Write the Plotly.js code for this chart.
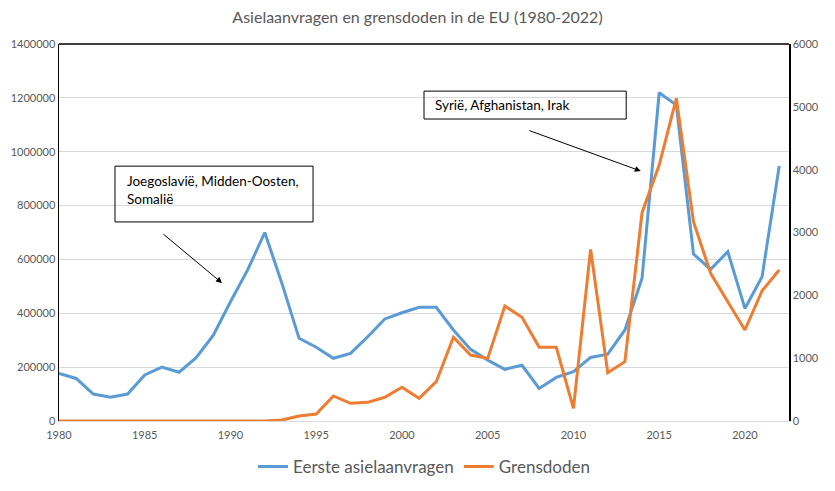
<!DOCTYPE html>
<html><head><meta charset="utf-8">
<script src="https://cdn.plot.ly/plotly-3.0.1.min.js"></script>
<style>html,body{margin:0;padding:0;background:#fff}#chart{width:835px;height:491px}</style>
</head><body><div id="chart"></div>
<script>
const years = [];
for (let y = 1980; y <= 2022; y++) years.push(y);
const asylum = [177000,158000,100000,88000,100000,171000,200000,181000,235000,319000,443000,561000,700000,511000,307000,274000,233000,251000,313000,379000,402000,422000,422000,338000,266000,226000,192000,207000,121000,162000,183000,236000,248000,338000,530000,1219000,1173000,620000,563000,629000,418000,536000,947000];
const deaths = [0,0,0,0,0,0,0,0,0,0,0,0,0,15,80,111,398,281,297,377,536,361,626,1332,1050,997,1830,1650,1173,1173,202,2732,769,944,3315,4074,5136,3172,2350,1899,1448,2074,2403];
const seriesNames = ['Eerste asielaanvragen','Grensdoden'];
const titleText = 'Asielaanvragen en grensdoden in de EU (1980-2022)';
const note1 = 'Joegoslavië, Midden-Oosten,<br>Somalië';
const note2 = 'Syrië, Afghanistan, Irak';

const gray = '#595959';
const font = 'Lato, "Open Sans", sans-serif';
const data = [
  {x: years, y: asylum, name: seriesNames[0], type: 'scatter', mode: 'lines',
   line: {color: '#5b9bd5', width: 3}},
  {x: years, y: deaths, name: seriesNames[1], type: 'scatter', mode: 'lines', yaxis: 'y2',
   line: {color: '#ed7d31', width: 3}}
];
const layout = {
  width: 835, height: 491,
  margin: {l: 59, r: 46, t: 44, b: 70, autoexpand: false},
  paper_bgcolor: '#fff', plot_bgcolor: '#fff',
  font: {family: font, color: gray, size: 11},
  title: {text: titleText, font: {family: font, size: 16, color: gray}, x: 0.5, xanchor: 'center', y: 0.965, yanchor: 'middle'},
  showlegend: true,
  legend: {orientation: 'h', x: 0.5, xanchor: 'center', yref: 'container', y: 0.049, yanchor: 'middle', font: {family: font, size: 17, color: gray}, itemwidth: 30, tracegroupgap: 0},
  xaxis: {range: [1980, 2022.57], tickvals: [1980,1985,1990,1995,2000,2005,2010,2015,2020], ticks: '', showgrid: false,
          ticklabelstandoff: 4,
          zeroline: false, showline: true, linecolor: '#d9d9d9', linewidth: 1, tickfont: {size: 11, color: gray}},
  yaxis: {range: [0, 1400000], dtick: 200000, tickformat: 'd', showgrid: true, gridcolor: '#d9d9d9', zeroline: false,
          showline: true, linecolor: '#000', linewidth: 1.5, ticks: '', tickfont: {size: 11, color: gray}},
  yaxis2: {range: [0, 6000], dtick: 1000, tickformat: 'd', overlaying: 'y', side: 'right', showgrid: false, zeroline: false,
           showline: true, linecolor: '#000', linewidth: 1.5, ticks: '', tickfont: {size: 11, color: gray}},
  shapes: [
    {type: 'line', xref: 'paper', yref: 'paper', x0: 0, x1: 1, y0: 1, y1: 1, line: {color: '#000', width: 1.5}},
    {type: 'rect', xref: 'paper', yref: 'paper', x0: 0.0767, x1: 0.348, y0: 0.528, y1: 0.676, line: {color: '#000', width: 1}, fillcolor: 'rgba(255,255,255,0)'},
    {type: 'rect', xref: 'paper', yref: 'paper', x0: 0.5, x1: 0.777, y0: 0.801, y1: 0.875, line: {color: '#000', width: 1}, fillcolor: 'rgba(255,255,255,0)'}
  ],
  annotations: [
    {xref: 'paper', yref: 'paper', x: 0.09, y: 0.662, xanchor: 'left', yanchor: 'top', align: 'left', showarrow: false,
     text: note1, font: {family: font, size: 13.5, color: '#000'}},
    {xref: 'paper', yref: 'paper', x: 0.512, y: 0.838, xanchor: 'left', yanchor: 'middle', align: 'left', showarrow: false,
     text: note2, font: {family: font, size: 13.5, color: '#000'}},
    {xref: 'paper', yref: 'paper', x: 0.2233, y: 0.366, showarrow: true, arrowhead: 2, arrowsize: 1.2, arrowwidth: 1, arrowcolor: '#000',
     ax: -60, ay: -50, text: ''},
    {xref: 'paper', yref: 'paper', x: 0.797, y: 0.663, showarrow: true, arrowhead: 2, arrowsize: 1.2, arrowwidth: 1, arrowcolor: '#000',
     ax: -113, ay: -41, text: ''}
  ]
};
Plotly.newPlot('chart', data, layout, {displayModeBar: false, staticPlot: true});
</script></body></html>
